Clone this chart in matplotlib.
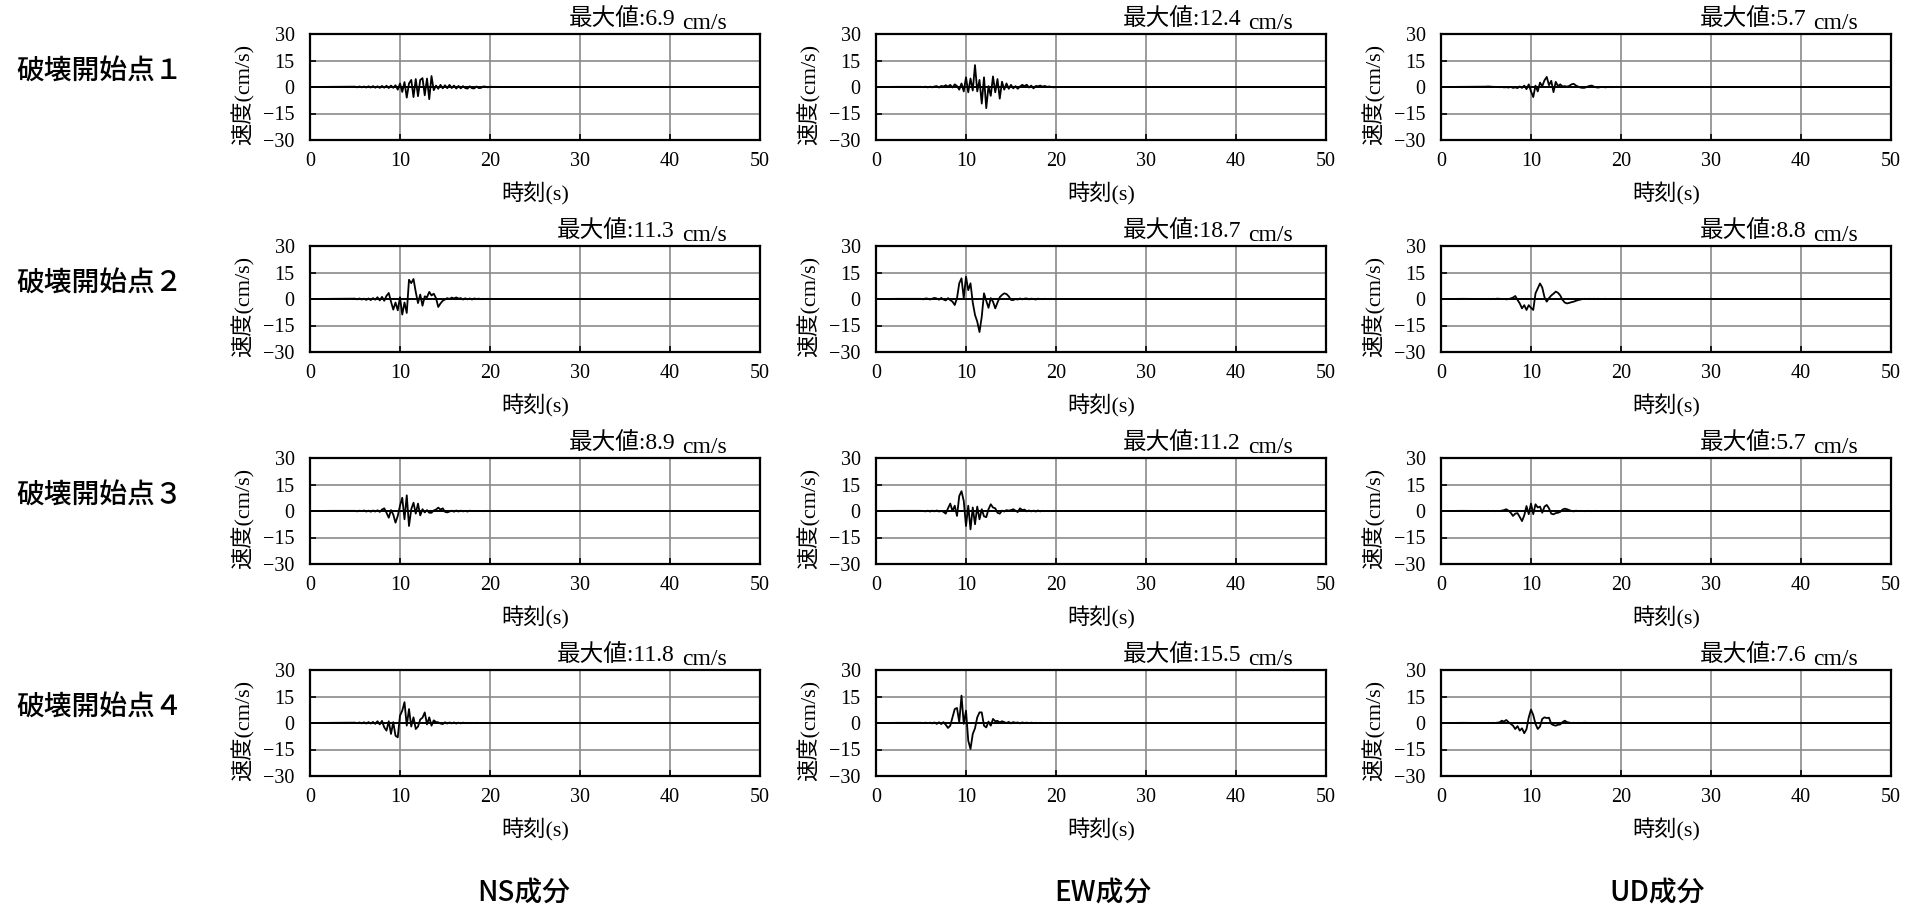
import matplotlib
matplotlib.use('Agg')
import matplotlib.pyplot as plt

# ---------------- data ----------------
row_labels = ['破壊開始点１', '破壊開始点２', '破壊開始点３', '破壊開始点４']
col_labels = ['NS成分', 'EW成分', 'UD成分']
max_values = [[6.9, 12.4, 5.7],
              [11.3, 18.7, 8.8],
              [8.9, 11.2, 5.7],
              [11.8, 15.5, 7.6]]
x_ticks = [0, 10, 20, 30, 40, 50]
y_ticks = [-30, -15, 0, 15, 30]

# sample times (s): quiet lead-in, 0.25 s readings 5-20 s, quiet tail
lead_t = [0.0, 2.5]
grid_t = [5.0, 5.25, 5.5, 5.75, 6.0, 6.25, 6.5, 6.75, 7.0, 7.25,
          7.5, 7.75, 8.0, 8.25, 8.5, 8.75, 9.0, 9.25, 9.5, 9.75,
          10.0, 10.25, 10.5, 10.75, 11.0, 11.25, 11.5, 11.75, 12.0, 12.25,
          12.5, 12.75, 13.0, 13.25, 13.5, 13.75, 14.0, 14.25, 14.5, 14.75,
          15.0, 15.25, 15.5, 15.75, 16.0, 16.25, 16.5, 16.75, 17.0, 17.25,
          17.5, 17.75, 18.0, 18.25, 18.5, 18.75, 19.0, 19.25, 19.5, 19.75, 20.0]
tail_t = [22.5, 25.0, 50.0]

# velocity readings (cm/s) at grid_t
ns1 = [0.2, -0.2, 0.3, -0.2, 0.3, -0.3, 0.4, -0.3, 0.5, -0.4,
       0.4, -0.5, 0.6, -0.4, 0.7, -0.6, 0.8, -0.5, 1.0, -1.5,
       2.0, -2.8, 2.8, -6.0, 2.0, 4.0, -5.7, 4.5, -5.2, 4.0,
       5.0, -4.7, 4.8, -6.9, 6.2, -1.8,
       0.8, -1.0, 1.2, -0.8, 1.0, -0.7, 1.2, -0.6, 0.8, -0.9,
       0.6, -0.8, 0.5, -0.6, -0.9, 0.4, -0.7, -0.8, 0.3, -0.6,
       -0.5, 0.3, 0.2, -0.2, 0.1]
ew1 = [0.1, -0.1, 0.2, -0.2, 0.2, -0.2, 0.3, 0.5, -0.3, 0.6,
       0.3, 1.0, 0.2, 1.2, -0.3, 1.5, 0.5, -1.5, 2.0, -2.5,
       5.5, -3.0, 4.8, -2.0, 12.4, -2.5, 4.0, -9.4, 5.5, -12.0,
       0.5, -5.0, 6.0, -3.0, 4.5, -6.6,
       3.0, -1.5, 2.0, -1.0, 1.2, -0.8, 0.5, -1.0, 0.3, 1.2,
       0.5, 1.3, -0.3, 0.8, -0.8, 0.6, 0.4, 0.8, 0.2, 0.6,
       0.1, 0.3, 0.0, -0.2, 0.0]
ud1 = [0.2, 0.3, 0.2, 0.1, 0.1, 0.0, -0.1, 0.0, -0.2, -0.1,
       -0.3, 0.1, -0.5, -0.2, -0.6, 0.3, -0.5, 0.8, -1.2, 1.5,
       -2.5, -5.7, 0.8, -2.5, 2.5, 0.5, 3.8, 5.7, 1.0, 3.5,
       -2.9, 2.9, 0.5, 1.5, 0.3, 0.5,
       0.2, 0.6, 1.5, 1.8, 0.8, 0.2, -0.3, -0.5, -0.4, 0.2,
       0.6, 0.8, 0.2, -0.2, -0.3, 0.0, 0.1, -0.2, 0.0, 0.1,
       -0.1, 0.0, 0.1, 0.0, 0.0]
ns2 = [0.2, -0.2, 0.3, -0.3, 0.2, -0.5, 0.3, -0.6, 0.5, -0.4,
       1.0, -0.8, 1.2, -1.0, 1.8, 3.4, -1.5, -6.0, -2.0, -6.4,
       1.0, -8.8, -2.0, -7.9, 10.9, 9.0, 11.3, 4.0, -2.3, 2.5,
       -3.8, 1.5, 1.0, 4.0, 2.0, 3.0,
       0.5, -4.5, -2.5, -1.0, -0.3, 0.5, 0.0, 0.8, 0.3, 0.9,
       0.2, 0.5, -0.3, 0.4, -0.2, 0.3, -0.3, 0.3, 0.0, 0.2,
       -0.1, 0.1, 0.0, 0.1, 0.0]
ew2 = [0.1, -0.2, 0.3, 0.2, -0.3, 0.2, 0.6, 0.3, -0.4, 0.6,
       -0.3, -0.8, 0.5, -0.6, -1.5, -3.4, 0.5, 8.9, 11.7, 0.5,
       12.6, 5.0, 8.9, -2.0, -9.0, -12.8, -18.7, -10.0, 3.2, -1.0,
       -5.0, 0.5, -1.5, -5.3, -2.0, 1.0,
       2.3, 3.2, 2.8, 1.5, -0.5, -0.6, 0.0, -0.3, 0.3, -0.2,
       0.2, 0.3, -0.2, 0.2, 0.0, -0.3, 0.2, 0.0, -0.1, 0.1,
       0.0, -0.1, 0.1, 0.0, 0.0]
ud2 = [0.0, 0.1, -0.1, 0.1, 0.0, 0.2, 0.1, -0.1, 0.1, -0.2,
       0.0, 0.3, 0.8, 1.7, -0.5, -2.5, -5.3, -3.5, -6.2, -3.5,
       -5.0, -6.2, 3.2, 6.0, 8.8, 6.5, 1.0, -1.5, 0.5, 2.0,
       3.0, 4.2, 3.5, 2.0, -0.5, -2.0,
       -2.5, -2.2, -1.8, -1.5, -1.0, -0.6, -0.3, 0.0, 0.1, 0.0,
       0.1, 0.0, 0.1, 0.0, 0.1, 0.0, 0.0, 0.1, 0.0, 0.0,
       0.0, 0.0, 0.0, 0.0, 0.0]
ns3 = [0.1, -0.2, 0.2, -0.1, 0.3, -0.3, 0.2, -0.4, 0.3, -0.3,
       0.4, -0.5, 0.8, 1.5, -1.0, -3.8, 0.5, -2.0, -6.6, -2.8,
       3.0, 7.5, -4.7, 8.9, -8.5, 1.0, 4.7, -1.5, 4.2, -2.5,
       1.0, -0.8, 0.5, -1.0, -1.0, 0.3,
       0.8, 1.9, 0.8, 1.5, -0.5, -0.8, -0.3, 0.2, -0.4, 0.3,
       -0.3, 0.2, -0.2, 0.1, -0.3, 0.2, -0.1, 0.1, -0.1, 0.1,
       0.0, -0.1, 0.0, 0.1, 0.0]
ew3 = [0.1, 0.0, -0.2, 0.2, -0.3, 0.2, -0.2, 0.3, -0.3, 0.1,
       -0.5, -1.5, 1.5, 4.2, 0.0, 3.0, -2.8, 8.5, 11.2, 5.7,
       -8.5, 3.0, -10.4, 2.0, -7.5, 2.5, -4.7, 1.0, -3.0, -3.5,
       1.0, 3.8, 2.0, 1.5, -1.0, -1.5,
       0.2, -0.3, 0.5, 0.2, 0.5, 1.0, 0.2, -0.6, 1.5, 0.5,
       0.8, -0.2, 0.3, -0.2, 0.2, -0.3, 0.3, -0.2, 0.1, -0.1,
       0.1, -0.1, 0.0, 0.1, 0.0]
ud3 = [0.0, 0.1, 0.0, 0.1, -0.1, 0.1, 0.0, 0.2, 0.5, 1.0,
       0.2, -1.0, -2.8, -1.5, -1.2, -3.4, -5.7, -2.5, 2.8, -1.8,
       4.2, -1.8, 3.8, 2.0, 2.5, -1.0, 2.5, 3.4, 1.5, -1.5,
       -1.9, -1.2, -1.0, -0.5, 0.8, 1.3,
       1.0, 0.5, 0.0, -0.2, 0.2, -0.1, 0.1, 0.0, -0.1, 0.1,
       0.0, -0.1, 0.0, 0.1, 0.0, 0.0, 0.0, 0.0, 0.0, 0.0,
       0.0, 0.0, 0.0, 0.0, 0.0]
ns4 = [0.2, -0.1, 0.3, -0.2, 0.4, -0.3, 0.5, -0.3, 0.6, -0.5,
       1.0, -0.8, 1.2, -2.5, -4.3, 1.0, -6.2, 0.5, -7.2, -8.1,
       4.2, 7.0, 11.8, -1.5, 7.9, -2.0, 3.2, -3.4, -2.0, 2.0,
       3.0, 6.0, -0.8, 3.2, -1.5, 1.5,
       0.5, 0.4, -0.3, -0.6, 0.4, -0.3, 0.3, -0.2, 0.3, -0.3,
       0.2, -0.2, 0.2, -0.1, 0.1, -0.1, 0.1, -0.1, 0.1, 0.0,
       0.0, 0.0, 0.0, 0.0, 0.0]
ew4 = [0.1, -0.1, 0.2, -0.1, 0.2, -0.2, 0.3, -0.5, 0.4, -0.6,
       0.5, -1.0, -2.8, -1.5, 3.2, 7.9, 8.5, 0.5, 15.5, -0.5,
       7.0, -10.0, -14.7, -6.2, -3.0, 3.2, 6.0, 6.0, -1.5, -2.5,
       0.8, -1.5, 2.3, 1.0, 1.2, 0.3,
       1.0, 0.5, 0.0, 0.6, -0.2, 0.5, 0.1, 0.3, -0.2, 0.3,
       0.0, 0.2, -0.1, 0.2, 0.0, 0.1, 0.0, 0.1, 0.0, 0.0,
       0.0, 0.0, 0.0, 0.0, 0.0]
ud4 = [0.0, 0.1, 0.0, 0.1, 0.0, 0.2, 0.3, 1.3, 0.8, 1.7,
       0.5, -0.5, -1.5, -3.4, -1.8, -4.3, -3.0, -5.8, -3.5, 3.2,
       7.6, 4.5, -0.5, -3.4, -2.0, 2.3, 3.2, 2.8, 3.0, -0.5,
       -1.2, -1.5, -1.0, -0.8, 0.5, 1.3,
       0.5, 0.2, 0.0, 0.1, 0.0, 0.1, 0.0, 0.0, 0.1, 0.0,
       0.0, 0.0, 0.0, 0.0, 0.0, 0.0, 0.0, 0.0, 0.0, 0.0,
       0.0, 0.0, 0.0, 0.0, 0.0]
lead_v = [0.0, 0.1]
tail_v = [0.0, 0.0, 0.0]

waves = [[ns1, ew1, ud1], [ns2, ew2, ud2], [ns3, ew3, ud3], [ns4, ew4, ud4]]

# ---------------- layout ----------------
W, H = 1921, 906
plt.rcParams['font.family'] = ['Liberation Serif', 'Noto Sans CJK JP']
plt.rcParams['axes.unicode_minus'] = True

fig = plt.figure(figsize=(W / 100, H / 100), dpi=100)
fig.patch.set_facecolor('white')

col_left = [310, 876, 1441]
row_top = [34, 246, 458, 670]
AW, AH = 450, 106
col_label_x = [524, 1103, 1657]


def fx(px):
    return px / W


def fy(py):
    return 1 - py / H


t_all = lead_t + grid_t + tail_t
for r in range(4):
    top = row_top[r]
    for c in range(3):
        left = col_left[c]
        ax = fig.add_axes([fx(left), fy(top + AH), AW / W, AH / H])
        v_all = lead_v + waves[r][c] + tail_v
        ax.plot(t_all, v_all, color='black', lw=1.3, zorder=3)
        ax.axhline(0, color='black', lw=1.4, zorder=2.5)
        ax.set_xlim(0, 50)
        ax.set_ylim(-30, 30)
        ax.set_xticks(x_ticks)
        ax.set_yticks(y_ticks)
        ax.grid(True, color='#8a8a8a', lw=1.2, zorder=1)
        for s in ax.spines.values():
            s.set_linewidth(1.6)
            s.set_color('black')
        ax.tick_params(axis='both', direction='in', length=4, width=1.2,
                       labelsize=14.5, colors='black')
        ax.tick_params(axis='x', pad=9)
        ax.tick_params(axis='y', pad=11)
        ax.set_axisbelow(True)

        right = left + AW
        fig.text(fx(right - 85), fy(top - 9), f'最大値:{max_values[r][c]}',
                 ha='right', va='baseline', fontsize=17)
        fig.text(fx(right - 78), fy(top - 5), 'cm/s',
                 ha='left', va='baseline', fontsize=17)
        fig.text(fx(left - 67), fy(top + AH / 2 + 7), '速度(cm/s)', rotation=90,
                 ha='center', va='center', fontsize=16)
        fig.text(fx(left + AW / 2), fy(top + AH + 54), '時刻(s)',
                 ha='center', va='center', fontsize=16)

    fig.text(fx(16), fy(top + AH / 2 - 17), row_labels[r], ha='left',
             va='center', fontsize=20, fontweight='medium',
             family=['Noto Sans CJK JP'])

for c in range(3):
    fig.text(fx(col_label_x[c]), fy(892), col_labels[c], ha='center',
             va='center', fontsize=20, fontweight='medium',
             family=['Noto Sans CJK JP'])

fig.savefig('out.png', dpi=100, facecolor='white')
